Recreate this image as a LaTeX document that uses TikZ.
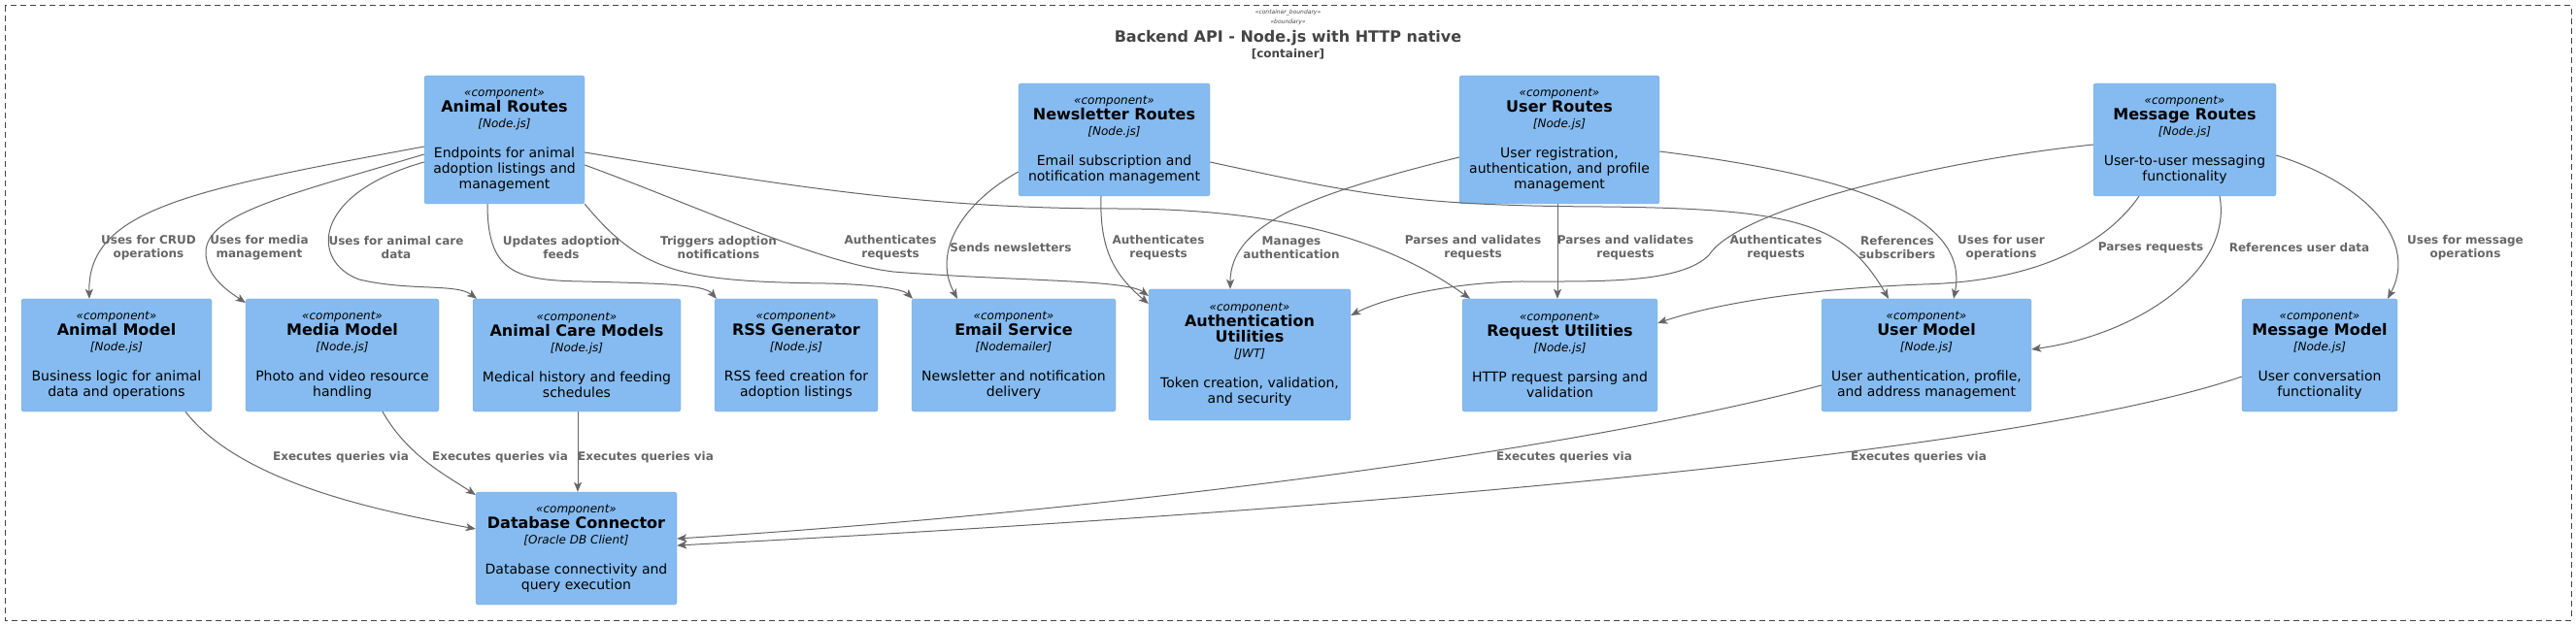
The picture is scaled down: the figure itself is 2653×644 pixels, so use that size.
\documentclass[tikz,border=0pt]{standalone}
\usepackage{fontspec}
\setmainfont{DejaVu Sans}[ItalicFont={DejaVu Sans Oblique},BoldFont={DejaVu Sans Bold},BoldItalicFont={DejaVu Sans Bold Oblique}]
\usetikzlibrary{arrows.meta}
\definecolor{cbg}{HTML}{85BBF0}
\definecolor{cbd}{HTML}{78A8D8}
\definecolor{edgec}{HTML}{666666}
\definecolor{bndc}{HTML}{444444}
\newcommand\stf{\fontsize{12}{16}\selectfont\itshape}
\newcommand\nmf{\fontsize{16}{16}\selectfont\bfseries}
\newcommand\dsf{\fontsize{14}{16}\selectfont}
\tikzset{
  comp/.style={draw=cbd, fill=cbg, rounded corners=2.5pt, align=center, font=\dsf, inner sep=0pt, text=black},
  rel/.style={draw=edgec, line width=1pt, -{Stealth[length=10pt,width=8pt,inset=2.5pt]}},
  lbl/.style={text=edgec, font=\fontsize{12}{14}\selectfont\bfseries, align=center, inner sep=0pt},
  hdr/.style={text=bndc, inner sep=0pt},
}
\begin{document}
\begin{tikzpicture}[x=1pt,y=-1pt]
\useasboundingbox (0,0) rectangle (2653,644);
\draw[bndc, line width=1pt, dash pattern=on 6pt off 4pt] (5,6) rectangle (2648,639);
\node[hdr, font=\fontsize{6}{7}\selectfont\itshape] (st1) at (1326.5,13) {«container\_boundary»};
\node[hdr, font=\fontsize{6}{7}\selectfont\itshape] (st2) at (1326.5,23) {«boundary»};
\node[hdr, font=\fontsize{16}{18}\selectfont\bfseries] (title) at (1326.5,39) {Backend API - Node.js with HTTP native};
\node[hdr, font=\fontsize{12}{14}\selectfont\bfseries] (ctype) at (1326.5,56) {[container]};

% top row
\node[comp, minimum width=165pt, minimum height=132pt] (ar) at (519.5,144) {\stf «component»\\\nmf Animal Routes\\\stf [Node.js]\\[15pt]Endpoints for animal\\adoption listings and\\management};
\node[comp, minimum width=197pt, minimum height=116pt] (nr) at (1147.5,144) {\stf «component»\\\nmf Newsletter Routes\\\stf [Node.js]\\[15pt]Email subscription and\\notification management};
\node[comp, minimum width=206pt, minimum height=132pt] (ur) at (1606,144) {\stf «component»\\\nmf User Routes\\\stf [Node.js]\\[15pt]User registration,\\authentication, and profile\\management};
\node[comp, minimum width=188pt, minimum height=116pt] (mr) at (2250,144) {\stf «component»\\\nmf Message Routes\\\stf [Node.js]\\[15pt]User-to-user messaging\\functionality};

% middle row
\node[comp, minimum width=196pt, minimum height=116pt] (am) at (120,366) {\stf «component»\\\nmf Animal Model\\\stf [Node.js]\\[15pt]Business logic for animal\\data and operations};
\node[comp, minimum width=199pt, minimum height=116pt] (mm) at (352.5,366) {\stf «component»\\\nmf Media Model\\\stf [Node.js]\\[15pt]Photo and video resource\\handling};
\node[comp, minimum width=214pt, minimum height=116pt] (acm) at (594,366) {\stf «component»\\\nmf Animal Care Models\\\stf [Node.js]\\[15pt]Medical history and feeding\\schedules};
\node[comp, minimum width=168pt, minimum height=116pt] (rss) at (820,366) {\stf «component»\\\nmf RSS Generator\\\stf [Node.js]\\[15pt]RSS feed creation for\\adoption listings};
\node[comp, minimum width=210pt, minimum height=116pt] (es) at (1044,366) {\stf «component»\\\nmf Email Service\\\stf [Nodemailer]\\[15pt]Newsletter and notification\\delivery};
\node[comp, minimum width=208pt, minimum height=135pt] (au) at (1287,365.5) {\stf «component»\\\nmf Authentication\\\nmf Utilities\\\stf [JWT]\\[15pt]Token creation, validation,\\and security};
\node[comp, minimum width=201pt, minimum height=116pt] (ru) at (1606.5,366) {\stf «component»\\\nmf Request Utilities\\\stf [Node.js]\\[15pt]HTTP request parsing and\\validation};
\node[comp, minimum width=216pt, minimum height=116pt] (um) at (1984,366) {\stf «component»\\\nmf User Model\\\stf [Node.js]\\[15pt]User authentication, profile,\\and address management};
\node[comp, minimum width=160pt, minimum height=116pt] (mmod) at (2389,366) {\stf «component»\\\nmf Message Model\\\stf [Node.js]\\[15pt]User conversation\\functionality};

% bottom
\node[comp, minimum width=207pt, minimum height=116pt] (db) at (593.5,565) {\stf «component»\\\nmf Database Connector\\\stf [Oracle DB Client]\\[15pt]Database connectivity and\\query execution};

% connectors from Animal Routes
\draw[rel] (ar.west |- 0,151) .. controls (200,195) and (90,215) .. (am.north -| 92,0);
\draw[rel] (ar.west |- 0,159) .. controls (300,200) and (212,220) .. (212,260) .. controls (212,285) and (235,300) .. (mm.west |- 0,312);
\draw[rel] (ar.west |- 0,167) .. controls (320,200) and (320,270) .. (370,288) .. controls (420,300) and (470,292) .. (acm.north -| 491,0);
\draw[rel] (ar.south -| 502,0) .. controls (502,280) and (530,289) .. (600,290) .. controls (680,292) and (725,293) .. (rss.north -| 738,0);
\draw[rel] (ar.south east) .. controls (660,280) and (700,290) .. (850,292) .. controls (900,293) and (930,298) .. (es.north -| 940,0);
\draw[rel] (ar.east |- 0,170) .. controls (720,213) and (840,270) .. (920,280) .. controls (1050,290) and (1160,288) .. (au.west |- 0,305);
\draw[rel] (ar.east |- 0,157) .. controls (800,190) and (950,215) .. (1150,215) .. controls (1300,215) and (1420,240) .. (ru.north -| 1514,0);
% Newsletter Routes
\draw[rel] (nr.west |- 0,177) .. controls (990,210) and (960,260) .. (es.north -| 986,0);
\draw[rel] (nr.south -| 1134,0) .. controls (1132,260) and (1150,285) .. (au.west |- 0,313);
\draw[rel] (nr.east |- 0,167) .. controls (1400,200) and (1450,212) .. (1650,213) .. controls (1850,215) and (1900,230) .. (um.north -| 1945,0);
% User Routes
\draw[rel] (ur.west |- 0,162) .. controls (1350,200) and (1267,230) .. (au.north -| 1267,0);
\draw[rel] (ur.south -| 1604,0) -- (ru.north -| 1604,0);
\draw[rel] (ur.east |- 0,156) .. controls (1900,180) and (2030,220) .. (um.north -| 2012,0);
% Message Routes
\draw[rel] (mr.west |- 0,149) .. controls (2000,165) and (1790,215) .. (1760,263) .. controls (1730,292) and (1650,290) .. (1567,290) .. controls (1500,291) and (1430,305) .. (au.east |- 0,325);
\draw[rel] (mr.south -| 2203,0) .. controls (2170,250) and (2100,290) .. (1980,293) .. controls (1850,298) and (1760,315) .. (ru.east |- 0,333);
\draw[rel] (mr.south -| 2286,0) .. controls (2300,280) and (2200,345) .. (um.east |- 0,360);
\draw[rel] (mr.east |- 0,160) .. controls (2440,190) and (2490,250) .. (mmod.north -| 2459,0);
% to database
\draw[rel] (am.south -| 191,0) .. controls (250,500) and (400,528) .. (db.west |- 0,545);
\draw[rel] (mm.south -| 394,0) .. controls (420,470) and (460,490) .. (db.west |- 0,510);
\draw[rel] (acm.south -| 595,0) -- (db.north -| 595,0);
\draw[rel] (um.west |- 0,397) .. controls (1600,470) and (1100,530) .. (db.east |- 0,555);
\draw[rel] (mmod.west |- 0,388) .. controls (2100,460) and (1500,520) .. (db.east |- 0,562);

% labels
\node[lbl] (l1) at (153,255) {Uses for CRUD\\operations};
\node[lbl] (l2) at (267,255) {Uses for media\\management};
\node[lbl] (l3) at (408,255) {Uses for animal care\\data};
\node[lbl] (l4) at (578,255) {Updates adoption\\feeds};
\node[lbl] (l5) at (740,255) {Triggers adoption\\notifications};
\node[lbl] (l6) at (917,255) {Authenticates\\requests};
\node[lbl] (l7) at (1041,255) {Sends newsletters};
\node[lbl] (l8) at (1193,255) {Authenticates\\requests};
\node[lbl] (l9) at (1330,255) {Manages\\authentication};
\node[lbl] (l10) at (1517,255) {Parses and validates\\requests};
\node[lbl] (l11) at (1674,255) {Parses and validates\\requests};
\node[lbl] (l12) at (1829,255) {Authenticates\\requests};
\node[lbl] (l13) at (1954,255) {References\\subscribers};
\node[lbl] (l14) at (2061,255) {Uses for user\\operations};
\node[lbl] (l15) at (2215,255) {Parses requests};
\node[lbl] (l16) at (2368,255) {References user data};
\node[lbl] (l17) at (2539,255) {Uses for message\\operations};
\node[lbl] (l18) at (351,471) {Executes queries via};
\node[lbl] (l19) at (515,471) {Executes queries via};
\node[lbl] (l20) at (665,471) {Executes queries via};
\node[lbl] (l21) at (1611,471) {Executes queries via};
\node[lbl] (l22) at (1976,471) {Executes queries via};
\end{tikzpicture}
\end{document}
